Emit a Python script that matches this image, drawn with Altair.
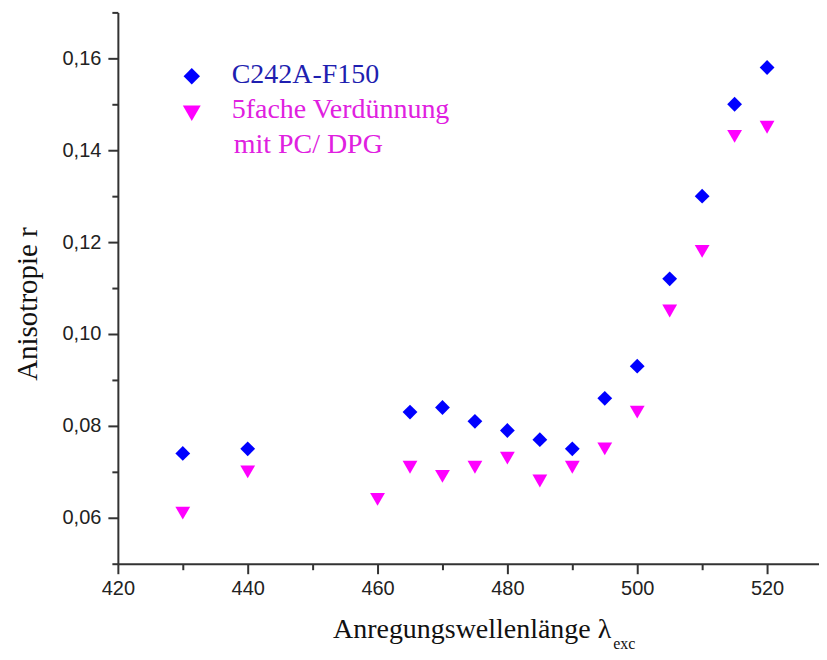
import altair as alt
import pandas as pd

# ---- data ----
wl_blue = [430, 440, 465, 470, 475, 480, 485, 490, 495, 500, 505, 510, 515, 520]
r_blue = [0.074, 0.075, 0.083, 0.084, 0.081, 0.079, 0.077, 0.075, 0.086, 0.093,
          0.112, 0.130, 0.150, 0.158]
wl_pink = [430, 440, 460, 465, 470, 475, 480, 485, 490, 495, 500, 505, 510, 515, 520]
r_pink = [0.061, 0.070, 0.064, 0.071, 0.069, 0.071, 0.073, 0.068, 0.071, 0.075,
          0.083, 0.105, 0.118, 0.143, 0.145]

series_names = ["C242A-F150", "5fache Verdünnung", " mit PC/ DPG"]
x_title = "Anregungswellenlänge λ"
x_title_sub = "exc"
y_title = "Anisotropie r"

x_major = [420, 440, 460, 480, 500, 520]
x_minor = [430, 450, 470, 490, 510]
y_major = [0.06, 0.08, 0.10, 0.12, 0.14, 0.16]
y_minor = [0.05, 0.07, 0.09, 0.11, 0.13, 0.15, 0.17]

BLUE = "#0000FF"
MAGENTA = "#FF00FF"
AXIS_COL = "#333333"

df_blue = pd.DataFrame({"wl": wl_blue, "r": r_blue})
df_pink = pd.DataFrame({"wl": wl_pink, "r": r_pink})

xs = alt.Scale(domain=[420, 528], nice=False, zero=False)
ys = alt.Scale(domain=[0.05, 0.17], nice=False, zero=False)

lab_expr = "replace(format(datum.value, '.2f'), '.', ',')"

major_x = alt.Axis(values=x_major, orient="bottom", title=None, grid=False,
                   tickSize=10, tickWidth=2, tickColor=AXIS_COL,
                   domainColor=AXIS_COL, domainWidth=2,
                   labelFont="Liberation Sans", labelFontSize=20, labelColor="#222222",
                   labelPadding=5, labelFlush=False)
major_y = alt.Axis(values=y_major, orient="left", title=None, grid=False,
                   tickSize=10, tickWidth=2, tickColor=AXIS_COL,
                   domainColor=AXIS_COL, domainWidth=2,
                   labelFont="Liberation Sans", labelFontSize=20, labelColor="#222222",
                   labelPadding=7, labelExpr=lab_expr, labelFlush=False)
minor_x = alt.Axis(values=x_minor, orient="bottom", title=None, grid=False,
                   tickSize=6, tickWidth=2, tickColor=AXIS_COL,
                   domain=False, labels=False)
minor_y = alt.Axis(values=y_minor, orient="left", title=None, grid=False,
                   tickSize=6, tickWidth=2, tickColor=AXIS_COL,
                   domain=False, labels=False)

blue_pts = alt.Chart(df_blue).mark_point(
    shape="diamond", filled=True, size=220, color=BLUE, opacity=1
).encode(
    x=alt.X("wl:Q", scale=xs, axis=major_x),
    y=alt.Y("r:Q", scale=ys, axis=major_y),
)

pink_pts = alt.Chart(df_pink).mark_point(
    shape="triangle-down", filled=True, size=220, color=MAGENTA, opacity=1
).encode(
    x=alt.X("wl:Q", scale=xs, axis=minor_x),
    y=alt.Y("r:Q", scale=ys, axis=minor_y),
)

# legend (drawn inside plot area)
leg_diamond = alt.Chart(pd.DataFrame({"n": [series_names[0]]})).mark_point(
    shape="diamond", filled=True, size=270, color=BLUE, opacity=1
).encode(x=alt.value(74), y=alt.value(64))
leg_tri = alt.Chart(pd.DataFrame({"n": [series_names[1]]})).mark_point(
    shape="triangle-down", filled=True, size=320, color=MAGENTA, opacity=1
).encode(x=alt.value(74), y=alt.value(101))

def label(txt, x, y, color, size=27, align="left", font="Liberation Serif", angle=0):
    return alt.Chart(pd.DataFrame({"t": [txt]})).mark_text(
        font=font, fontSize=size, color=color, align=align,
        baseline="alphabetic", angle=angle
    ).encode(text="t:N", x=alt.value(x), y=alt.value(y))

leg_t1 = label(series_names[0], 114, 71, "#1f1fb0", size=28)
leg_t2 = label(series_names[1], 114, 106, "#e020e0", size=28)
leg_t3 = label(series_names[2], 116, 141, "#e020e0", size=28)

xt_main = label(x_title, 494, 626, "#111111", size=28, align="right")
xt_sub = label(x_title_sub, 496, 637, "#111111", size=16, align="left")
yt = label(y_title, -81, 292, "#111111", size=29, align="center", angle=270)

chart = alt.layer(
    blue_pts, pink_pts, leg_diamond, leg_tri, leg_t1, leg_t2, leg_t3,
    xt_main, xt_sub, yt
).resolve_axis(x="independent", y="independent").properties(
    width=702, height=552,
    padding={"left": 110, "top": 4, "right": 0, "bottom": 92},
    autosize=alt.AutoSizeParams(type="none"),
).configure_view(stroke=None)

chart.save("out.html", embed_options={"renderer": "svg", "actions": False})
